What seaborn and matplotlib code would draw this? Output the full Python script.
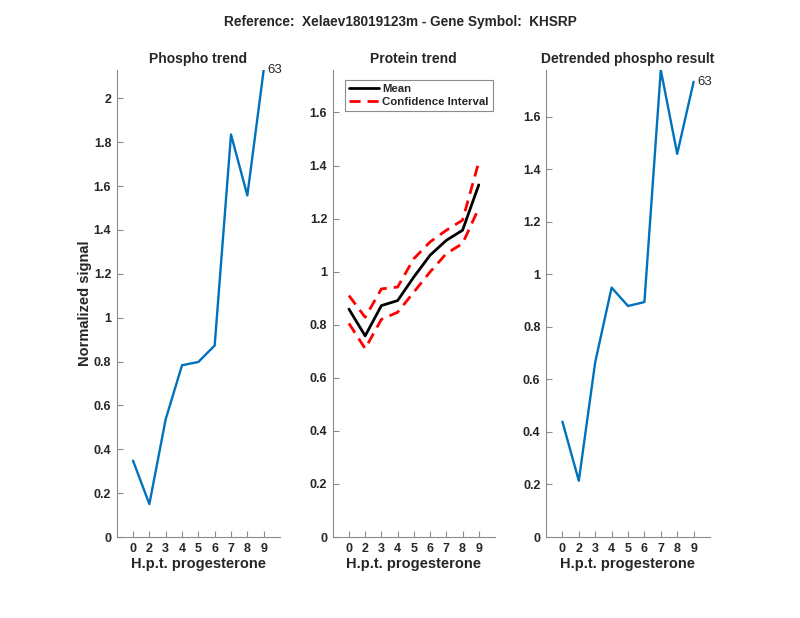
import matplotlib
matplotlib.use("Agg")
import matplotlib.pyplot as plt
import seaborn as sns
import pandas as pd
from matplotlib.ticker import FuncFormatter

# ---- data ----
x_pos = [1, 2, 3, 4, 5, 6, 7, 8, 9]
x_labels = ["0", "2", "3", "4", "5", "6", "7", "8", "9"]
phospho = [0.348, 0.150, 0.537, 0.783, 0.798, 0.873, 1.835, 1.557, 2.129]
protein_mean = [0.859, 0.758, 0.872, 0.891, 0.980, 1.062, 1.118, 1.156, 1.327]
protein_upper = [0.910, 0.828, 0.935, 0.942, 1.049, 1.112, 1.156, 1.194, 1.413]
protein_lower = [0.805, 0.710, 0.820, 0.847, 0.923, 0.999, 1.068, 1.106, 1.239]
detrended = [0.439, 0.214, 0.665, 0.949, 0.879, 0.894, 1.777, 1.458, 1.732]
point_label = "63"
suptitle = "Reference:  Xelaev18019123m - Gene Symbol:  KHSRP"
titles = ["Phospho trend", "Protein trend", "Detrended phospho result"]
xlabel = "H.p.t. progesterone"
ylabel = "Normalized signal"

sns.set_style("ticks")
plt.rcParams['font.family'] = ['Liberation Sans', 'DejaVu Sans']

W, H = 800, 618
fig = plt.figure(figsize=(8, 6.18), dpi=100)

def ax_rect(l, r, t=70, b=537):
    return [l / W, 1 - b / H, (r - l) / W, (b - t) / H]

ax1 = fig.add_axes(ax_rect(116.7, 280))
ax2 = fig.add_axes(ax_rect(332.7, 495))
ax3 = fig.add_axes(ax_rect(546, 710))

blue = "#0072BD"
tick_col = "#262626"
spine_col = "#8c8c8c"

df1 = pd.DataFrame({"x": x_pos, "y": phospho})
df2 = pd.DataFrame({"x": x_pos, "mean": protein_mean, "upper": protein_upper, "lower": protein_lower})
df3 = pd.DataFrame({"x": x_pos, "y": detrended})

sns.lineplot(data=df1, x="x", y="y", ax=ax1, color=blue, lw=1.7)
sns.lineplot(data=df2, x="x", y="mean", ax=ax2, color="black", lw=2, label="Mean")
sns.lineplot(data=df2, x="x", y="upper", ax=ax2, color="red", lw=2, label="Confidence Interval")
ax2.lines[-1].set_dashes((4, 2.5))
sns.lineplot(data=df2, x="x", y="lower", ax=ax2, color="red", lw=2, legend=False)
ax2.lines[-1].set_dashes((4, 2.5))
sns.lineplot(data=df3, x="x", y="y", ax=ax3, color=blue, lw=1.7)

ax1.text(9.25, phospho[-1], point_label, fontsize=9.5, va="center", ha="left", color=tick_col)
ax3.text(9.25, detrended[-1], point_label, fontsize=9.5, va="center", ha="left", color=tick_col)

ylims = [(0, max(phospho)), (0, 1.76), (0, max(detrended))]
yticks = [[0, 0.2, 0.4, 0.6, 0.8, 1, 1.2, 1.4, 1.6, 1.8, 2],
          [0, 0.2, 0.4, 0.6, 0.8, 1, 1.2, 1.4, 1.6],
          [0, 0.2, 0.4, 0.6, 0.8, 1, 1.2, 1.4, 1.6]]

fmt = FuncFormatter(lambda v, p: "%g" % round(v, 2))
for ax, t, yl, yt in zip([ax1, ax2, ax3], titles, ylims, yticks):
    ax.set_xlim(0, 10)
    ax.set_ylim(*yl)
    ax.set_xticks(x_pos)
    ax.set_xticklabels(x_labels)
    ax.set_yticks(yt)
    ax.yaxis.set_major_formatter(fmt)
    ax.set_title(t, fontsize=10, fontweight="bold", pad=5)
    ax.set_xlabel(xlabel, fontsize=10.5, fontweight="bold", color=tick_col, labelpad=2)
    ax.set_ylabel("")
    ax.tick_params(direction="in", length=4, width=0.8, colors=spine_col,
                   labelcolor=tick_col, labelsize=9, pad=4)
    for lab in ax.get_xticklabels() + ax.get_yticklabels():
        lab.set_fontweight("bold")
    for s in ["top", "right"]:
        ax.spines[s].set_visible(False)
    for s in ["left", "bottom"]:
        ax.spines[s].set_color(spine_col)
        ax.spines[s].set_linewidth(0.8)

ax1.set_ylabel(ylabel, fontsize=10.5, fontweight="bold", color=tick_col, labelpad=1)

leg = ax2.legend(loc="upper left", bbox_to_anchor=(0.076, 0.979), fontsize=8.2,
                 handlelength=2.6, handletextpad=0.3, borderpad=0.35,
                 labelspacing=0.25, borderaxespad=0, fancybox=False, framealpha=1)
leg.get_frame().set_edgecolor(spine_col)
leg.get_frame().set_linewidth(0.8)
for txt in leg.get_texts():
    txt.set_fontweight("bold")
    txt.set_color(tick_col)

fig.suptitle(suptitle, fontsize=9.8, fontweight="bold", y=1 - 22 / H, va="center")

fig.savefig("out.png", dpi=100, facecolor="white")
